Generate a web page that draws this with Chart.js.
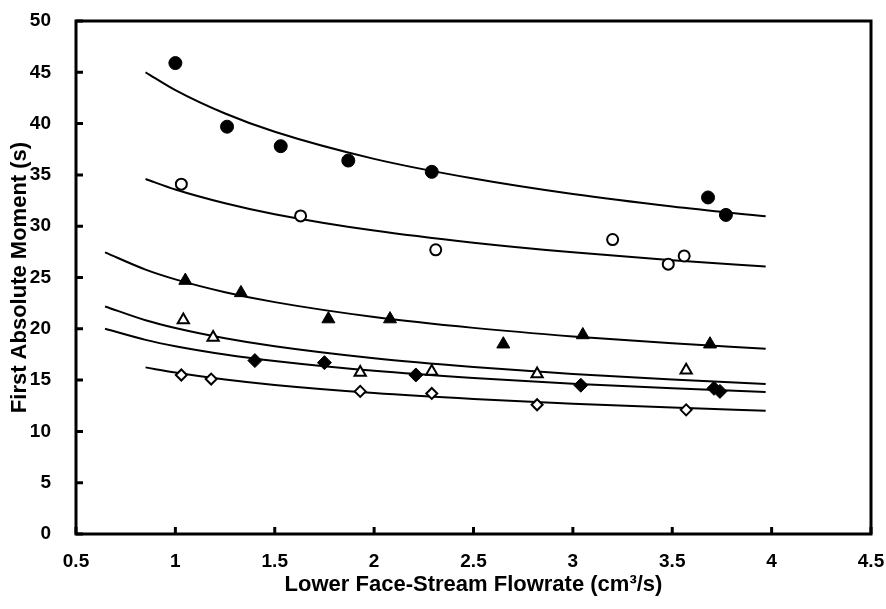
<!DOCTYPE html>
<html><head><meta charset="utf-8">
<script src="https://cdn.jsdelivr.net/npm/chart.js@4/dist/chart.umd.min.js"></script>
<style>html,body{margin:0;padding:0;background:#fff}#wrap{width:886px;height:609px}</style>
</head><body><div id="wrap"><canvas id="c" width="886" height="609"></canvas></div>
<script>
// ---- data ----
const xTickValues = [0.5, 1, 1.5, 2, 2.5, 3, 3.5, 4, 4.5];
const yTickValues = [0, 5, 10, 15, 20, 25, 30, 35, 40, 45, 50];

const filledCircleX = [1.00, 1.26, 1.53, 1.87, 2.29, 3.68, 3.77];
const filledCircleY = [45.9, 39.7, 37.8, 36.4, 35.3, 32.8, 31.1];

const openCircleX = [1.03, 1.63, 2.31, 3.20, 3.48, 3.56];
const openCircleY = [34.1, 31.0, 27.7, 28.7, 26.3, 27.1];

const filledTriangleX = [1.05, 1.33, 1.77, 2.08, 2.65, 3.05, 3.69];
const filledTriangleY = [24.7, 23.5, 20.95, 20.95, 18.5, 19.4, 18.5];

const openTriangleX = [1.04, 1.19, 1.93, 2.29, 2.82, 3.57];
const openTriangleY = [20.85, 19.15, 15.75, 15.85, 15.6, 15.95];

const filledDiamondX = [1.40, 1.75, 2.21, 3.04, 3.71, 3.74];
const filledDiamondY = [16.9, 16.7, 15.5, 14.5, 14.2, 13.9];

const openDiamondX = [1.03, 1.18, 1.93, 2.29, 2.82, 3.57];
const openDiamondY = [15.5, 15.1, 13.9, 13.7, 12.6, 12.1];

// fitted curves, points
const fitShortX = [0.85, 1.0, 1.25, 1.5, 2.0, 2.5, 3.0, 3.5, 3.97];
const fitLongX  = [0.646, 0.85, 1.0, 1.25, 1.5, 2.0, 2.5, 3.0, 3.5, 3.97];

const fitFilledCircleY   = [45.0, 43.26, 40.98, 39.20, 36.56, 34.64, 33.13, 31.92, 30.96];
const fitOpenCircleY     = [34.6, 33.58, 32.24, 31.17, 29.57, 28.39, 27.45, 26.69, 26.08];
const fitFilledTriangleY = [27.45, 25.77, 24.82, 23.57, 22.60, 21.15, 20.09, 19.26, 18.59, 18.06];
const fitOpenTriangleY   = [22.18, 20.83, 20.07, 19.07, 18.29, 17.12, 16.27, 15.60, 15.06, 14.62];
const fitFilledDiamondY  = [20.0, 18.92, 18.30, 17.49, 16.86, 15.90, 15.20, 14.65, 14.20, 13.84];
const fitOpenDiamondY    = [16.24, 15.73, 15.06, 14.53, 13.74, 13.16, 12.70, 12.32, 12.02];

const xTitle = 'Lower Face-Stream Flowrate (cm\u00B3/s)';
const yTitle = 'First Absolute Moment (s)';

// ---- build datasets ----
const zip = (xs, ys) => xs.map((x, i) => ({x, y: ys[i]}));

function markerSet(xs, ys, style, filled, radius) {
  return {
    data: zip(xs, ys), showLine: false, pointStyle: style,
    pointRadius: radius, pointHoverRadius: radius,
    pointBackgroundColor: filled ? '#000' : '#fff',
    pointBorderColor: '#000', pointBorderWidth: filled ? 1 : 2, order: 0
  };
}
function fitSet(xs, ys) {
  return {
    data: zip(xs, ys), showLine: true, pointRadius: 0, pointHoverRadius: 0,
    borderColor: '#000', borderWidth: 2, cubicInterpolationMode: 'monotone',
    fill: false, order: 1
  };
}

const datasets = [
  fitSet(fitShortX, fitFilledCircleY),
  fitSet(fitShortX, fitOpenCircleY),
  fitSet(fitLongX, fitFilledTriangleY),
  fitSet(fitLongX, fitOpenTriangleY),
  fitSet(fitLongX, fitFilledDiamondY),
  fitSet(fitShortX, fitOpenDiamondY),
  markerSet(filledCircleX, filledCircleY, 'circle', true, 6.5),
  markerSet(openCircleX, openCircleY, 'circle', false, 5.5),
  markerSet(filledTriangleX, filledTriangleY, 'triangle', true, 7.5),
  markerSet(openTriangleX, openTriangleY, 'triangle', false, 6.5),
  markerSet(filledDiamondX, filledDiamondY, 'rectRot', true, 7),
  markerSet(openDiamondX, openDiamondY, 'rectRot', false, 5.5)
];

const framePlugin = {
  id: 'frame',
  beforeDatasetsDraw(chart) {
    const {ctx, chartArea: a, scales} = chart;
    ctx.save();
    ctx.strokeStyle = '#000';
    ctx.lineWidth = 3;
    ctx.strokeRect(a.left, a.top, a.right - a.left, a.bottom - a.top);
    ctx.beginPath();
    scales.x.ticks.forEach(t => {
      const px = scales.x.getPixelForValue(t.value);
      ctx.moveTo(px, a.bottom); ctx.lineTo(px, a.bottom - 7);
    });
    scales.y.ticks.forEach(t => {
      const py = scales.y.getPixelForValue(t.value);
      ctx.moveTo(a.left, py); ctx.lineTo(a.left + 7, py);
    });
    ctx.stroke();
    ctx.restore();
  }
};

const tickFont = {family: '"Liberation Sans", Arial, sans-serif', size: 19, weight: 'bold'};
const titleFont = {family: '"Liberation Sans", Arial, sans-serif', size: 22, weight: 'bold'};

new Chart(document.getElementById('c'), {
  type: 'scatter',
  data: {datasets},
  options: {
    responsive: false, animation: false, devicePixelRatio: 1,
    layout: {padding: {top: 21, right: 15, left: 0, bottom: 0}},
    plugins: {legend: {display: false}, tooltip: {enabled: false}},
    scales: {
      x: {
        type: 'linear', min: 0.5, max: 4.5,
        afterBuildTicks: s => { s.ticks = xTickValues.map(v => ({value: v})); },
        afterFit: s => { s.height = 75; s.paddingLeft = 0; s.paddingRight = 0; },
        grid: {display: false}, border: {display: false},
        ticks: {color: '#000', font: tickFont, padding: 8, maxRotation: 0, callback: v => String(v)},
        title: {display: true, text: xTitle, color: '#000', font: titleFont, padding: {top: 0, bottom: 11}}
      },
      y: {
        type: 'linear', min: 0, max: 50,
        afterBuildTicks: s => { s.ticks = yTickValues.map(v => ({value: v})); },
        afterFit: s => { s.width = 76; s.paddingTop = 0; s.paddingBottom = 0; },
        grid: {display: false}, border: {display: false},
        ticks: {color: '#000', font: tickFont, padding: 17, callback: v => String(v)},
        title: {display: true, text: yTitle, color: '#000', font: titleFont, padding: {top: 7, bottom: 0}}
      }
    }
  },
  plugins: [framePlugin]
});
</script>
</body></html>
